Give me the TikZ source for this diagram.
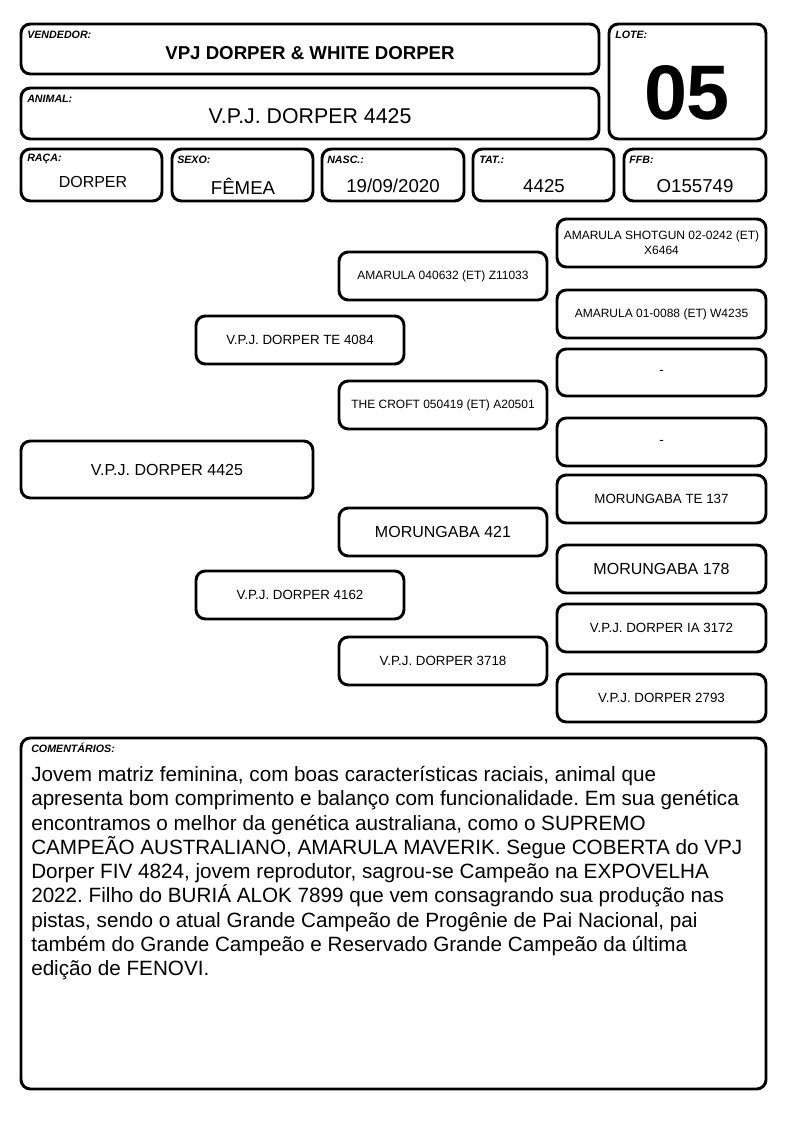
\documentclass[tikz,border=0pt]{standalone}
\usepackage{fontspec}
\setmainfont{Liberation Sans}
\usepackage{tikz}
\usetikzlibrary{positioning,calc}
\frenchspacing

\tikzset{
  caixa/.style={line width=2.2pt, rounded corners=7pt},
  rotulo/.style={anchor=west, inner sep=0pt, font=\fontsize{8}{9}\selectfont\bfseries\itshape},
  valor/.style={inner sep=0pt, font=\fontsize{14}{16}\selectfont},
  gen/.style={inner sep=0pt, align=center, font=\fontsize{10}{12}\selectfont},
  genp/.style={inner sep=0pt, align=center, font=\fontsize{9}{11}\selectfont},
  geng/.style={inner sep=0pt, align=center, font=\fontsize{12}{14}\selectfont}
}

\begin{document}
\begin{tikzpicture}[x=0.75pt,y=0.75pt,yscale=-1,xscale=1]
\useasboundingbox (0,0) rectangle (794,1123);

% cabecalho
\draw [caixa] (21,24) rectangle (599,74);
\draw [caixa] (21,88) rectangle (599,139);
\draw [caixa] (609,24) rectangle (766,139);

\node [rotulo] (lbvend) at (27,35) {VENDEDOR:};
\node [inner sep=0pt, font=\fontsize{14}{16}\selectfont\bfseries] (vend) at (310,53) {VPJ DORPER \& WHITE DORPER};
\node [rotulo] (lbanim) at (27,99) {ANIMAL:};
\node [inner sep=0pt, font=\fontsize{16}{18}\selectfont] (anim) at (310,116) {V.P.J. DORPER 4425};
\node [rotulo] (lblote) at (615,35) {LOTE:};
\node [inner sep=0pt, font=\fontsize{58}{60}\selectfont\bfseries] (lote) at (687,93) {05};

% dados
\draw [caixa] (21,149) rectangle (162,201);
\draw [caixa] (172,149) rectangle (313,201);
\draw [caixa] (322,149) rectangle (464,201);
\draw [caixa] (473,149) rectangle (614,201);
\draw [caixa] (624,149) rectangle (766,201);

\node [rotulo] (lbraca) at (27,159) {RAÇA:};
\node [valor, font=\fontsize{12}{14}\selectfont] (raca) at (93,182) {DORPER};
\node [rotulo] (lbsexo) at (177,160) {SEXO:};
\node [valor] (sexo) at (243,186) {FÊMEA};
\node [rotulo] (lbnasc) at (327,160) {NASC.:};
\node [valor] (nasc) at (393,186) {19/09/2020};
\node [rotulo] (lbtat) at (479,160) {TAT.:};
\node [valor] (tat) at (544,186) {4425};
\node [rotulo] (lbffb) at (629,160) {FFB:};
\node [valor] (ffb) at (695,186) {O155749};

% genealogia
\draw [caixa] (21,441) rectangle (313,498);
\node [geng] (animal) at (167,470) {V.P.J. DORPER 4425};

\draw [caixa] (196,316) rectangle (404,364);
\node [gen] (pai) at (300,340) {V.P.J. DORPER TE 4084};
\draw [caixa] (196,571) rectangle (404,619);
\node [gen] (mae) at (300,595) {V.P.J. DORPER 4162};

\draw [caixa] (339,252) rectangle (547,300);
\node [genp] (avopp) at (443,276) {AMARULA 040632 (ET) Z11033};
\draw [caixa] (339,381) rectangle (547,429);
\node [genp] (avopm) at (443,405) {THE CROFT 050419 (ET) A20501};
\draw [caixa] (339,508) rectangle (547,556);
\node [geng] (avomp) at (443,532) {MORUNGABA 421};
\draw [caixa] (339,637) rectangle (547,685);
\node [gen] (avomm) at (443,661) {V.P.J. DORPER 3718};

\draw [caixa] (557,219) rectangle (766,267);
\node [genp] (bis1) at (661.5,243) {AMARULA SHOTGUN 02-0242 (ET)\\X6464};
\draw [caixa] (557,290) rectangle (766,338);
\node [genp] (bis2) at (661.5,314) {AMARULA 01-0088 (ET) W4235};
\draw [caixa] (557,349) rectangle (766,396);
\node [gen] (bis3) at (661.5,372.5) {-};
\draw [caixa] (557,418) rectangle (766,466);
\node [gen] (bis4) at (661.5,442) {-};
\draw [caixa] (557,475) rectangle (766,523);
\node [gen] (bis5) at (661.5,499) {MORUNGABA TE 137};
\draw [caixa] (557,545) rectangle (766,593);
\node [geng] (bis6) at (661.5,569) {MORUNGABA 178};
\draw [caixa] (557,604) rectangle (766,652);
\node [gen] (bis7) at (661.5,628) {V.P.J. DORPER IA 3172};
\draw [caixa] (557,674) rectangle (766,722);
\node [gen] (bis8) at (661.5,698) {V.P.J. DORPER 2793};

% comentarios
\draw [caixa] (21,738) rectangle (766,1089);
\node [rotulo] (lbcom) at (31,748) {COMENTÁRIOS:};
\node [anchor=north west, inner sep=0pt, align=left, font=\fontsize{15.5}{18.2}\selectfont] (coment) at (31,766) {Jovem matriz feminina, com boas características raciais, animal que\\
apresenta bom comprimento e balanço com funcionalidade. Em sua genética\\
encontramos o melhor da genética australiana, como o SUPREMO\\
CAMPEÃO AUSTRALIANO, AMARULA MAVERIK. Segue COBERTA do VPJ\\
Dorper FIV 4824, jovem reprodutor, sagrou-se Campeão na EXPOVELHA\\
2022. Filho do BURIÁ ALOK 7899 que vem consagrando sua produção nas\\
pistas, sendo o atual Grande Campeão de Progênie de Pai Nacional, pai\\
também do Grande Campeão e Reservado Grande Campeão da última\\
edição de FENOVI.};

\end{tikzpicture}
\end{document}
